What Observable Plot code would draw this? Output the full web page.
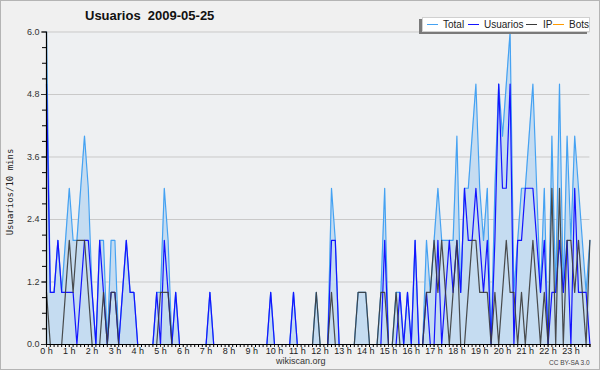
<!DOCTYPE html>
<html><head><meta charset="utf-8">
<script src="https://cdn.jsdelivr.net/npm/d3@7"></script>
<script src="https://cdn.jsdelivr.net/npm/@observablehq/plot@0.6"></script>
<style>
html,body{margin:0;padding:0;background:#f0f0f0;}
#wrap{position:relative;width:600px;height:370px;overflow:hidden;background:#f0f0f0;}
#wrap svg{position:absolute;left:0;top:0;}
.ov{position:absolute;white-space:nowrap;color:#222;}
#title{left:85px;top:8px;font:bold 13px "Liberation Sans",sans-serif;color:#111;}
#ylab{left:10px;top:192px;font:9px "DejaVu Sans Mono",monospace;color:#222;transform:translate(-50%,-50%) rotate(-90deg);}
#legend{left:422px;top:17px;width:168px;height:15px;background:#fff;border:1px solid #d0d0d0;box-shadow:-3px 2px 0 #7a7a7a;box-sizing:border-box;}
.lg{position:absolute;top:6px;height:0;width:11px;border-top:1.5px solid;}
.lt{position:absolute;top:1px;font:10px "Liberation Sans",sans-serif;color:#222;}
#site{left:276px;top:356px;font:9px "Liberation Sans",sans-serif;color:#333;}
#cc{left:549px;top:359px;font:6.5px "Liberation Sans",sans-serif;color:#444;}
#border{position:absolute;left:0;top:0;width:600px;height:370px;box-sizing:border-box;border:1px solid #b4b4b4;pointer-events:none;}
</style>
</head><body>
<div id="wrap"></div>
<script>
// Hour tick labels
const hourLabels = ["0 h","1 h","2 h","3 h","4 h","5 h","6 h","7 h","8 h","9 h","10 h","11 h","12 h","13 h","14 h","15 h","16 h","17 h","18 h","19 h","20 h","21 h","22 h","23 h"];
// Y tick labels
const yLabels = ["0.0","1.2","2.4","3.6","4.8","6.0"];
const yLabelValues = [0, 1.2, 2.4, 3.6, 4.8, 6.0];
// Series, one value per 10-minute slot (144 slots)
const total = [
6,1,1,2,1,2,3,2,2,3,4,3,1,0,2,2,0,2,2,0,1,2,1,1,0,0,0,0,0,1,
1,3,2,0,1,0,0,0,0,0,0,0,0,1,0,0,0,0,0,0,0,0,0,0,0,0,0,0,0,1,
0,0,0,0,0,1,0,0,0,0,0,1,0,0,0,3,2,0,0,0,0,0,1,1,1,0,0,0,1,3,
0,0,1,1,0,1,0,2,0,0,2,1,2,3,2,2,2,2,4,1,3,3,4,5,3,2,3,0,3,5,
4,5,6,1,2,3,3,4,5,3,1,3,0,4,1,5,1,4,2,4,3,2,1,2];
const usuarios = [
5,1,1,2,1,1,1,1,0,1,2,2,1,0,2,1,0,1,1,0,1,2,1,1,0,0,0,0,0,1,
0,2,1,0,1,0,0,0,0,0,0,0,0,1,0,0,0,0,0,0,0,0,0,0,0,0,0,0,0,1,
0,0,0,0,0,1,0,0,0,0,0,0,0,0,0,2,2,0,0,0,0,0,0,0,0,0,0,0,0,2,
0,0,0,1,0,1,0,2,0,0,1,0,0,2,0,1,2,1,2,1,3,2,2,3,2,1,2,0,2,5,
3,3,5,0,2,2,3,3,3,2,1,2,0,1,1,2,1,2,0,3,1,1,1,0];
const ip = [
1,0,0,0,0,1,2,1,2,2,2,1,0,0,0,1,0,1,1,0,0,0,0,0,0,0,0,0,0,0,
1,1,1,0,0,0,0,0,0,0,0,0,0,0,0,0,0,0,0,0,0,0,0,0,0,0,0,0,0,0,
0,0,0,0,0,0,0,0,0,0,0,1,0,0,0,1,0,0,0,0,0,0,1,1,1,0,0,0,1,1,
0,0,1,0,0,0,0,0,0,0,1,1,2,1,2,1,0,1,2,0,0,1,2,2,1,1,1,0,1,0,
1,2,1,1,0,1,0,1,2,1,0,1,0,3,0,3,0,2,2,1,2,1,0,2];
const bots = [
0,0,0,0,0,0,0,0,0,0,0,0,0,0,0,0,0,0,0,0,0,0,0,0,0,0,0,0,0,0,
0,0,0,0,0,0,0,0,0,0,0,0,0,0,0,0,0,0,0,0,0,0,0,0,0,0,0,0,0,0,
0,0,0,0,0,0,0,0,0,0,0,0,0,0,0,0,0,0,0,0,0,0,0,0,0,0,0,0,0,0,
0,0,0,0,0,0,0,0,0,0,0,0,0,0,0,0,0,0,0,0,0,0,0,0,0,0,0,0,0,0,
0,0,0,0,0,0,0,0,0,0,0,0,0,0,0,0,0,0,0,0,0,0,0,0];
const seriesNames = ["Total","Usuarios","IP","Bots"];
const seriesColors = ["#45a2f2","#1414ff","#3a3a3a","#ff9a00"];

const data = total.map((t, i) => ({slot: i, total: t, usuarios: usuarios[i], ip: ip[i], bots: bots[i]}));
const slots = data.map(d => d.slot);
const hourSlots = hourLabels.map((_, h) => h * 6);
const yMinor = d3.range(0, 21).map(k => k * 0.3);

const chart = Plot.plot({
  width: 600, height: 370,
  marginLeft: 46, marginRight: 10.6, marginTop: 31.5, marginBottom: 26,
  style: {background: "transparent", fontFamily: "Liberation Sans, sans-serif", fontSize: "9px", color: "#333"},
  x: {domain: [0, 143], axis: null},
  y: {domain: [0, 6], axis: null},
  marks: [
    Plot.frame({fill: "#eef0f2", stroke: null}),
    Plot.gridY(yLabelValues.slice(1), {stroke: "#c9c9c9", strokeOpacity: 1, strokeWidth: 1}),
    Plot.areaY(data, {x: "slot", y: "total", fill: "#c5dcf1", fillOpacity: 1}),
    Plot.lineY(data, {x: "slot", y: "total", stroke: seriesColors[0], strokeWidth: 1.2}),
    Plot.lineY(data, {x: "slot", y: "usuarios", stroke: seriesColors[1], strokeWidth: 1.2}),
    Plot.lineY(data, {x: "slot", y: "ip", stroke: seriesColors[2], strokeWidth: 1.2, strokeOpacity: 0.9}),
    Plot.lineY(data, {x: "slot", y: "bots", stroke: seriesColors[3], strokeWidth: 1.2}),
    Plot.axisY(yMinor, {tickSize: 4, tickFormat: () => "", stroke: "#000", label: null}),
    Plot.axisY(yLabelValues, {tickSize: 5, tickPadding: 2, tickFormat: d => yLabels[yLabelValues.indexOf(d)], fill: "#333", fontSize: 9, label: null}),
    Plot.axisX(slots.concat([143]), {tickSize: 3, tickFormat: () => "", stroke: "#000", label: null}),
    Plot.axisX(hourSlots, {tickSize: 3, tickPadding: 0, tickFormat: d => hourLabels[d / 6], fill: "#222", fontSize: 9, label: null}),
    Plot.ruleX([0], {stroke: "#000", strokeWidth: 1.2}),
    Plot.ruleY([0], {stroke: "#000", strokeWidth: 1.2})
  ]
});

const wrap = document.getElementById("wrap");
wrap.appendChild(chart);

function addDiv(id, text) {
  const d = document.createElement("div");
  d.className = "ov"; d.id = id; d.textContent = text;
  wrap.appendChild(d); return d;
}
addDiv("title", "Usuarios\u00a0\u00a02009-05-25");
addDiv("ylab", "Usuarios/10 mins");
addDiv("site", "wikiscan.org");
addDiv("cc", "CC BY-SA 3.0");
const legend = addDiv("legend", "");
const lineX = [4, 45, 103, 130];
const textX = [20, 61, 120, 146];
seriesNames.forEach((name, k) => {
  const l = document.createElement("div");
  l.className = "lg"; l.style.left = lineX[k] + "px"; l.style.borderTopColor = seriesColors[k];
  legend.appendChild(l);
  const t = document.createElement("div");
  t.className = "lt"; t.style.left = textX[k] + "px"; t.textContent = name;
  legend.appendChild(t);
});
const b = document.createElement("div"); b.id = "border"; wrap.appendChild(b);
</script>
</body></html>
